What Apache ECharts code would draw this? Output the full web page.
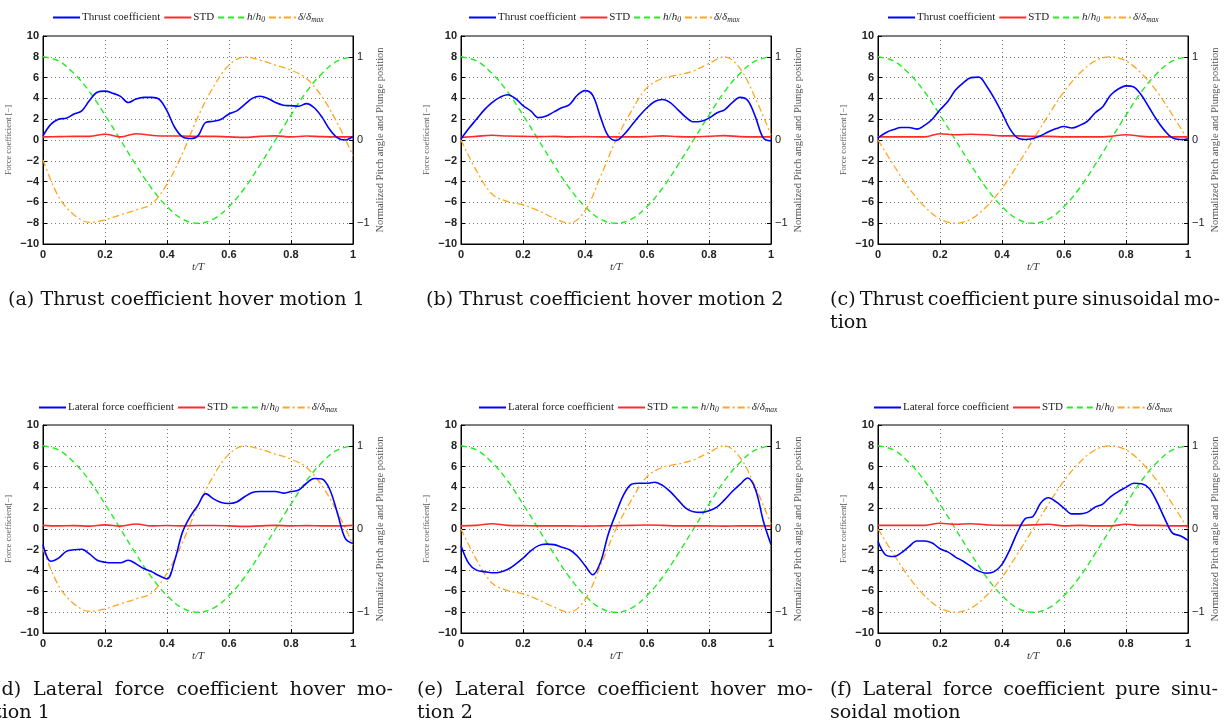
<!DOCTYPE html>
<html>
<head>
<meta charset="utf-8">
<script src="https://cdn.jsdelivr.net/npm/echarts@6/dist/echarts.min.js"></script>
<style>
  html, body { margin: 0; padding: 0; background: #fff; }
  #chart { width: 1225px; height: 722px; }
</style>
</head>
<body>
<div id="chart"></div>
<script>
// time axis (t/T)
var tFine = [0, 0.025, 0.05, 0.075, 0.1, 0.125, 0.15, 0.175, 0.2, 0.225, 0.25, 0.275, 0.3, 0.325, 0.35, 0.375, 0.4, 0.425, 0.45, 0.475, 0.5,
  0.525, 0.55, 0.575, 0.6, 0.625, 0.65, 0.675, 0.7, 0.725, 0.75, 0.775, 0.8, 0.825, 0.85, 0.875, 0.9, 0.925, 0.95, 0.975, 1];
var tCoarse = [0, 0.05, 0.1, 0.15, 0.2, 0.25, 0.3, 0.35, 0.4, 0.45, 0.5, 0.55, 0.6, 0.65, 0.7, 0.75, 0.8, 0.85, 0.9, 0.95, 1];

// normalized plunge position h/h0 (same in every panel)
var plunge = [1, 0.95, 0.8, 0.58, 0.3, 0, -0.3, -0.58, -0.8, -0.95, -1, -0.95, -0.8, -0.58, -0.3, 0, 0.3, 0.58, 0.8, 0.95, 1];

// normalized pitch angle delta/delta_max
var pitchHover1 = [-0.24, -0.68, -0.9, -0.99, -0.96, -0.9, -0.84, -0.77, -0.53, -0.16, 0.28, 0.64, 0.9, 1.0, 0.96, 0.9, 0.84, 0.74, 0.52, 0.2, -0.19];
var pitchHover2 = [0, -0.37, -0.65, -0.74, -0.78, -0.85, -0.94, -1.0, -0.85, -0.44, 0, 0.35, 0.63, 0.74, 0.78, 0.83, 0.92, 1.0, 0.86, 0.5, 0.06];
var pitchSin = [0, -0.3, -0.58, -0.8, -0.95, -1, -0.95, -0.8, -0.58, -0.3, 0, 0.3, 0.58, 0.8, 0.95, 1, 0.95, 0.8, 0.58, 0.3, 0];

// thrust coefficient
var thrustHover1 = [0.4, 1.5, 2.0, 2.1, 2.5, 2.8, 3.8, 4.6, 4.7, 4.5, 4.2, 3.6, 3.95, 4.1, 4.1, 3.9, 2.8, 1.2, 0.3, 0.15, 0.4,
  1.7, 1.8, 2.0, 2.5, 2.8, 3.4, 4.0, 4.2, 4.0, 3.6, 3.35, 3.3, 3.25, 3.5, 3.1, 2.2, 1.0, 0.2, 0.0, 0.35];
var thrustHover2 = [0.1, 1.1, 2.0, 2.9, 3.6, 4.1, 4.35, 4.0, 3.3, 2.8, 2.15, 2.3, 2.7, 3.1, 3.4, 4.3, 4.75, 4.3, 2.2, 0.4, -0.05,
  0.5, 1.4, 2.3, 3.1, 3.7, 3.9, 3.6, 2.9, 2.2, 1.75, 1.8, 2.1, 2.6, 2.9, 3.6, 4.1, 3.8, 2.2, 0.2, -0.1];
var thrustSin = [0.2, 0.7, 1.0, 1.2, 1.2, 1.05, 1.4, 2.0, 2.9, 3.7, 4.8, 5.5, 6.0, 6.05, 5.2, 4.0, 2.6, 1.1, 0.2, 0.05, 0.15,
  0.4, 0.8, 1.1, 1.3, 1.15, 1.4, 1.8, 2.6, 3.2, 4.3, 4.9, 5.2, 5.1, 4.3, 3.1, 1.9, 0.9, 0.2, 0.05, 0.1];

// lateral force coefficient
var lateralHover1 = [-1.5, -3.1, -2.8, -2.15, -2.0, -1.95, -2.4, -3.0, -3.2, -3.25, -3.25, -3.0, -3.35, -3.8, -4.1, -4.5, -4.8, -3.0, -0.3, 1.2, 2.3,
  3.4, 2.9, 2.55, 2.45, 2.6, 3.1, 3.5, 3.6, 3.6, 3.6, 3.45, 3.6, 3.75, 4.4, 4.85, 4.8, 3.8, 1.5, -0.9, -1.4];
var lateralHover2 = [-1.6, -3.3, -3.95, -4.1, -4.2, -4.15, -3.9, -3.4, -2.8, -2.1, -1.6, -1.45, -1.5, -1.75, -2.0, -2.6, -3.5, -4.4, -3.2, -0.5, 1.5,
  3.3, 4.3, 4.4, 4.4, 4.5, 4.2, 3.6, 2.8, 2.0, 1.65, 1.6, 1.75, 2.1, 2.8, 3.6, 4.3, 4.9, 3.8, 0.8, -1.5];
var lateralSin = [-1.2, -2.5, -2.65, -2.3, -1.7, -1.15, -1.15, -1.35, -1.9, -2.2, -2.7, -3.1, -3.6, -4.05, -4.25, -4.1, -3.4, -2.0, -0.3, 1.0, 1.2,
  2.5, 3.0, 2.6, 2.0, 1.45, 1.45, 1.6, 2.1, 2.4, 3.1, 3.6, 4.0, 4.4, 4.35, 3.9, 2.6, 1.0, -0.4, -0.65, -1.1];

// standard deviation
var stdA = [0.3, 0.32, 0.35, 0.35, 0.55, 0.3, 0.6, 0.45, 0.38, 0.38, 0.35, 0.35, 0.3, 0.25, 0.35, 0.4, 0.3, 0.38, 0.32, 0.3, 0.3];
var stdB = [0.25, 0.35, 0.45, 0.38, 0.35, 0.32, 0.35, 0.3, 0.32, 0.3, 0.3, 0.3, 0.32, 0.4, 0.32, 0.3, 0.35, 0.42, 0.32, 0.3, 0.3];
var stdC = [0.3, 0.3, 0.3, 0.3, 0.6, 0.5, 0.55, 0.5, 0.4, 0.4, 0.35, 0.35, 0.3, 0.3, 0.3, 0.35, 0.5, 0.35, 0.3, 0.3, 0.3];
var stdD = [0.35, 0.3, 0.32, 0.28, 0.4, 0.28, 0.48, 0.3, 0.33, 0.3, 0.33, 0.33, 0.3, 0.25, 0.3, 0.35, 0.3, 0.32, 0.3, 0.3, 0.35];
var stdE = [0.3, 0.35, 0.5, 0.35, 0.32, 0.3, 0.3, 0.3, 0.28, 0.3, 0.32, 0.35, 0.38, 0.35, 0.3, 0.3, 0.3, 0.28, 0.3, 0.3, 0.3];
var stdF = [0.35, 0.35, 0.35, 0.35, 0.55, 0.45, 0.5, 0.4, 0.35, 0.35, 0.4, 0.45, 0.3, 0.35, 0.3, 0.3, 0.45, 0.35, 0.35, 0.3, 0.3];

var yTicksRight = [-1, 0, 1];

var panels = [
  { force: 'Thrust coefficient', yName: 'Force coefficient [\u2212]', main: thrustHover1, std: stdA, pitch: pitchHover1 },
  { force: 'Thrust coefficient', yName: 'Force coefficient [\u2212]', main: thrustHover2, std: stdB, pitch: pitchHover2 },
  { force: 'Thrust coefficient', yName: 'Force coefficient [\u2212]', main: thrustSin, std: stdC, pitch: pitchSin },
  { force: 'Lateral force coefficient', yName: 'Force coefficient[\u2212]', main: lateralHover1, std: stdD, pitch: pitchHover1 },
  { force: 'Lateral force coefficient', yName: 'Force coefficient[\u2212]', main: lateralHover2, std: stdE, pitch: pitchHover2 },
  { force: 'Lateral force coefficient', yName: 'Force coefficient[\u2212]', main: lateralSin, std: stdF, pitch: pitchSin }
];

var captions = [
  { lines: ['(a) Thrust coefficient hover motion 1'], x: 8, y: 300, w: 0 },
  { lines: ['(b) Thrust coefficient hover motion 2'], x: 426, y: 300, w: 0 },
  { lines: ['(c) Thrust coefficient pure sinusoidal mo-', 'tion'], x: 830, y: 300, w: 390 },
  { lines: ['(d) Lateral force coefficient hover mo-', 'tion 1'], x: -6, y: 690, w: 399 },
  { lines: ['(e) Lateral force coefficient hover mo-', 'tion 2'], x: 417, y: 690, w: 396 },
  { lines: ['(f) Lateral force coefficient pure sinu-', 'soidal motion'], x: 830, y: 690, w: 388 }
];

// layout of the six axes boxes
var boxes = [
  { left: 43, top: 36, legendLeft: 52, legendTop: 12 },
  { left: 461, top: 36, legendLeft: 468, legendTop: 12 },
  { left: 878, top: 36, legendLeft: 887, legendTop: 12 },
  { left: 43, top: 425, legendLeft: 38, legendTop: 402 },
  { left: 461, top: 425, legendLeft: 478, legendTop: 402 },
  { left: 878, top: 425, legendLeft: 873, legendTop: 402 }
];
var boxW = 310, boxH = 208;

function pairs(xs, ys) {
  return ys.map(function (v, i) { return [xs[i], v]; });
}
function minusSign(v) {
  return String(v).replace('-', '\u2212');
}

var serif = '"Liberation Serif", "DejaVu Serif", serif';
var capFamily = '"DejaVu Serif", serif';
var sans = '"Liberation Sans", Arial, sans-serif';

var grids = [], xAxes = [], yAxes = [], series = [], legends = [], graphics = [];

panels.forEach(function (p, i) {
  var b = boxes[i];
  grids.push({ left: b.left, top: b.top, width: boxW, height: boxH, show: true, borderColor: '#000', borderWidth: 1, backgroundColor: '#fff' });
  xAxes.push({
    type: 'value', gridIndex: i, min: 0, max: 1, interval: 0.2,
    name: 't/T', nameLocation: 'middle', nameGap: 18,
    nameTextStyle: { fontFamily: serif, fontStyle: 'italic', fontSize: 11, color: '#333' },
    axisLine: { show: true, onZero: false, lineStyle: { color: '#000', width: 1 } },
    axisTick: { inside: true, length: 4, lineStyle: { color: '#000' } },
    axisLabel: { fontFamily: sans, fontSize: 11, fontWeight: 'bold', color: '#222', margin: 5 },
    splitLine: { show: true, lineStyle: { type: [1, 3], color: '#777', width: 1 } }
  });
  yAxes.push({
    type: 'value', gridIndex: i, min: -10, max: 10, interval: 2, position: 'left',
    name: p.yName, nameLocation: 'middle', nameGap: 30,
    nameTextStyle: { fontFamily: serif, fontSize: 8.5, color: '#555' },
    axisLine: { show: true, onZero: false, lineStyle: { color: '#000', width: 1 } },
    axisTick: { inside: true, length: 4, lineStyle: { color: '#000' } },
    axisLabel: { fontFamily: sans, fontSize: 11, fontWeight: 'bold', color: '#222', margin: 4, formatter: minusSign },
    splitLine: { show: true, lineStyle: { type: [1, 3], color: '#777', width: 1 } }
  });
  yAxes.push({
    type: 'value', gridIndex: i, min: -1.25, max: 1.25, position: 'right',
    name: 'Normalized Pitch angle and Plunge position', nameLocation: 'middle', nameGap: 22,
    nameTextStyle: { fontFamily: serif, fontSize: 10.5, color: '#555' },
    axisLine: { show: true, onZero: false, lineStyle: { color: '#000', width: 1 } },
    axisTick: { inside: true, length: 4, customValues: yTicksRight, lineStyle: { color: '#000' } },
    axisLabel: { fontFamily: sans, fontSize: 11, color: '#222', margin: 4, customValues: yTicksRight, formatter: minusSign },
    splitLine: { show: false }
  });

  series.push({
    name: p.force, type: 'line', xAxisIndex: i, yAxisIndex: 2 * i, data: pairs(tFine, p.main),
    smooth: 0.35, symbol: 'none', lineStyle: { color: '#0000ff', width: 1.6 }, itemStyle: { color: '#0000ff' }, z: 5
  });
  series.push({
    name: 'STD', type: 'line', xAxisIndex: i, yAxisIndex: 2 * i, data: pairs(tCoarse, p.std),
    smooth: 0.4, symbol: 'none', lineStyle: { color: '#ff2a2a', width: 1.6 }, itemStyle: { color: '#ff2a2a' }, z: 4
  });
  series.push({
    name: 'h/h0', type: 'line', xAxisIndex: i, yAxisIndex: 2 * i + 1, data: pairs(tCoarse, plunge),
    smooth: 0.4, symbol: 'none', lineStyle: { color: '#22ee22', width: 1.4, type: [6, 4] }, itemStyle: { color: '#22ee22' }, z: 3
  });
  series.push({
    name: 'delta', type: 'line', xAxisIndex: i, yAxisIndex: 2 * i + 1, data: pairs(tCoarse, p.pitch),
    smooth: 0.35, symbol: 'none', lineStyle: { color: '#ffa620', width: 1.3, type: [7, 3, 2, 3] }, itemStyle: { color: '#ffa620' }, z: 3
  });

  legends.push({
    left: b.legendLeft, top: b.legendTop, orient: 'horizontal',
    data: [p.force, 'STD', 'h/h0', 'delta'],
    itemWidth: 27, itemHeight: 10, itemGap: 3, padding: 0,
    selectedMode: false,
    itemStyle: { opacity: 0 },
    formatter: function (name) {
      if (name === 'h/h0') return '{i|h}/{i|h}{s|0}';
      if (name === 'delta') return '{i|\u03b4}/{i|\u03b4}{s|max}';
      return name;
    },
    textStyle: {
      fontFamily: serif, fontSize: 11, color: '#222', padding: [0, 0, 0, -3],
      rich: {
        i: { fontFamily: serif, fontStyle: 'italic', fontSize: 11, color: '#222' },
        s: { fontFamily: serif, fontStyle: 'italic', fontSize: 7.5, color: '#222', padding: [5, 0, 0, 0] }
      }
    }
  });
});

// captions below the panels; font sized from caption (a)'s measured width, wrapped lines justified
var measure = document.createElement('canvas').getContext('2d');
measure.font = '20px ' + capFamily;
var capSize = 20 * 357 / measure.measureText(captions[0].lines[0]).width;
var capFont = capSize.toFixed(2) + 'px ' + capFamily;
measure.font = capFont;
captions.forEach(function (c) {
  c.lines.forEach(function (line, k) {
    var y = c.y + k * 23;
    if (c.lines.length > 1 && k === 0 && c.w) {
      var words = line.split(' ');
      var widths = words.map(function (w) { return measure.measureText(w).width; });
      var total = widths.reduce(function (s, w) { return s + w; }, 0);
      var gap = (c.w - total) / (words.length - 1);
      var cx = c.x;
      words.forEach(function (w, j) {
        graphics.push({ type: 'text', x: cx, y: y, style: { text: w, font: capFont, fill: '#111', verticalAlign: 'middle' } });
        cx += widths[j] + gap;
      });
    } else {
      graphics.push({ type: 'text', x: c.x, y: y, style: { text: line, font: capFont, fill: '#111', verticalAlign: 'middle' } });
    }
  });
});

var chart = echarts.init(document.getElementById('chart'), null, { renderer: 'canvas' });
chart.setOption({
  backgroundColor: '#fff',
  animation: false,
  grid: grids,
  xAxis: xAxes,
  yAxis: yAxes,
  legend: legends,
  series: series,
  graphic: graphics
});
</script>
</body>
</html>
